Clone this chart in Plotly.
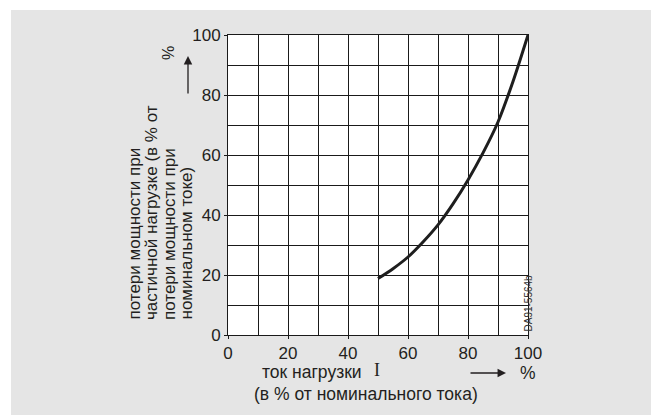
import plotly.graph_objects as go

# Data
load_current = [50, 55, 60, 65, 70, 75, 80, 85, 90, 95, 100]
partial_losses = [18.8, 22.1, 26.0, 31.0, 36.7, 43.7, 51.7, 60.7, 71.0, 84.5, 100.0]

x_tickvals = [0, 20, 40, 60, 80, 100]
x_ticktext = ["0", "20", "40", "60", "80", "100"]
y_tickvals = [0, 20, 40, 60, 80, 100]
y_ticktext = ["0", "20", "40", "60", "80", "100"]

y_title_lines = ["потери мощности при", "частичной нагрузке (в % от",
                 "потери мощности при", "номинальном токе)"]

TXT = "#231f20"
GREY = "#e5e5e5"
FONT = "Liberation Sans, Arial, sans-serif"

fig = go.Figure()
fig.add_trace(go.Scatter(
    x=load_current, y=partial_losses, mode="lines",
    line=dict(color="#1e1e1e", width=3, shape="spline", smoothing=0.8),
    hoverinfo="skip", showlegend=False,
))

W, H = 651, 415
L, T = 228, 35
R = W - 528
B = H - 335
pw = W - L - R
ph = H - T - B

def px(xp):
    return (xp - L) / pw

def py(yp):
    return (H - B - yp) / ph

fig.update_layout(
    width=W, height=H,
    margin=dict(l=L, r=R, t=T, b=B, pad=0),
    paper_bgcolor=GREY,
    plot_bgcolor="white",
    font=dict(family=FONT, color=TXT, size=17),
    showlegend=False,
    shapes=[
        # white strips along the top and left edges
        dict(type="rect", xref="paper", yref="paper", layer="below",
             x0=px(-5), x1=px(11), y0=py(430), y1=py(-5),
             fillcolor="white", line=dict(width=0)),
        dict(type="rect", xref="paper", yref="paper", layer="below",
             x0=px(-5), x1=px(660), y0=py(10), y1=py(-5),
             fillcolor="white", line=dict(width=0)),
    ],
)

GRID = dict(showgrid=True, gridcolor="#1a1a1a", gridwidth=1)
fig.update_xaxes(
    range=[0, 100], tickvals=x_tickvals, ticktext=x_ticktext,
    minor=dict(dtick=10, **GRID), **GRID,
    showline=True, linecolor="#1a1a1a", linewidth=1, mirror=True,
    ticks="outside", ticklen=3, tickcolor="#1a1a1a",
    zeroline=False, fixedrange=True,
    tickfont=dict(size=17, family=FONT, color=TXT),
)
fig.update_yaxes(
    range=[0, 100], tickvals=y_tickvals, ticktext=y_ticktext,
    minor=dict(dtick=10, **GRID), **GRID,
    showline=True, linecolor="#1a1a1a", linewidth=1, mirror=True,
    ticks="outside", ticklen=3, tickcolor="#1a1a1a",
    zeroline=False, fixedrange=True,
    tickfont=dict(size=17, family=FONT, color=TXT),
)

anns = []
# y axis title: four rotated lines
for line_text, xc in zip(y_title_lines, [133.5, 151.5, 169, 186]):
    anns.append(dict(x=px(xc), y=py(322), xref="paper", yref="paper",
                     text=line_text, textangle=-90,
                     xanchor="center", yanchor="bottom", showarrow=False,
                     font=dict(size=17, family=FONT, color=TXT)))
anns += [
    # y % sign
    dict(x=px(168), y=py(53), xref="paper", yref="paper", text="%",
         textangle=-90, xanchor="center", yanchor="middle",
         showarrow=False, font=dict(size=16, family=FONT, color=TXT)),
    # y arrow
    dict(x=px(188), y=py(56), ax=0, ay=39, xref="paper", yref="paper",
         axref="pixel", ayref="pixel", text="", showarrow=True,
         arrowhead=2, arrowsize=1.3, arrowwidth=1.3, arrowcolor=TXT),
    # x axis title line 1
    dict(x=px(260), y=py(372), xref="paper", yref="paper", text="ток нагрузки",
         xanchor="left", yanchor="middle", showarrow=False,
         font=dict(size=17.5, family=FONT, color=TXT)),
    dict(x=px(377), y=py(370), xref="paper", yref="paper", text="I",
         xanchor="center", yanchor="middle", showarrow=False,
         font=dict(size=18, family="Liberation Serif, Times New Roman, serif", color=TXT)),
    # x arrow
    dict(x=px(506), y=py(373), ax=-37, ay=0, xref="paper", yref="paper",
         axref="pixel", ayref="pixel", text="", showarrow=True,
         arrowhead=2, arrowsize=1.3, arrowwidth=1.3, arrowcolor=TXT),
    dict(x=px(528), y=py(373), xref="paper", yref="paper", text="%",
         xanchor="center", yanchor="middle", showarrow=False,
         font=dict(size=17.5, family=FONT, color=TXT)),
    # x axis title line 2
    dict(x=px(366), y=py(394), xref="paper", yref="paper", text="(в % от номинального тока)",
         xanchor="center", yanchor="middle", showarrow=False,
         font=dict(size=17.5, family=FONT, color=TXT)),
    # figure code
    dict(x=px(528), y=py(334), xref="paper", yref="paper", text="DA91-5564b",
         textangle=-90, xanchor="center", yanchor="bottom", showarrow=False,
         font=dict(size=10, family=FONT, color="#333333")),
]
fig.update_layout(annotations=anns)

fig.write_html(
    "out.html",
    config={"displayModeBar": False},
    post_script="document.body.style.margin='0';document.body.style.overflow='hidden';",
)
